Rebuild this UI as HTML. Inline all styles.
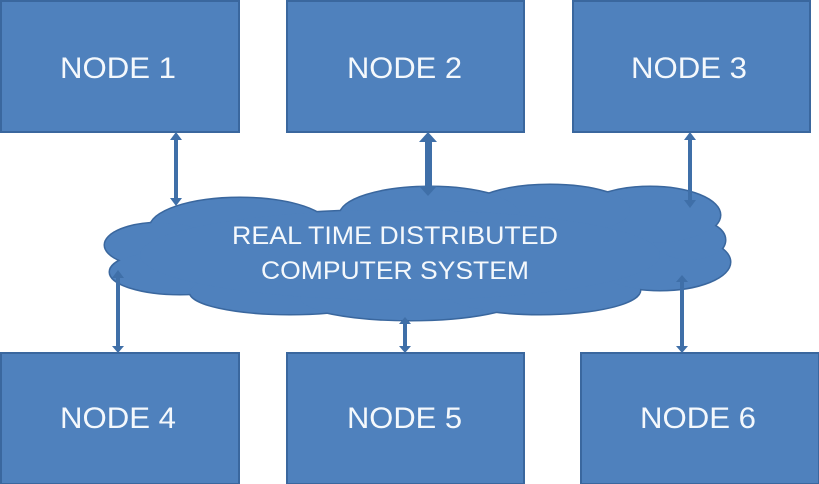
<!DOCTYPE html>
<html><head><meta charset="utf-8"><style>
html,body{margin:0;padding:0;background:#fff;}
svg{display:block}
text{font-family:"Liberation Sans",sans-serif;fill:#f4f8fc;}
</style></head><body>
<svg width="819" height="484" viewBox="0 0 819 484" xmlns="http://www.w3.org/2000/svg">
<g fill="#4f81bd" stroke="#3a679e" stroke-width="2">
<rect x="1" y="1" width="238" height="131"/>
<rect x="287" y="1" width="237" height="131"/>
<rect x="573" y="1" width="237" height="131"/>
<rect x="1" y="353" width="238" height="131"/>
<rect x="287" y="353" width="237" height="131"/>
<rect x="581" y="353" width="238" height="131"/>
</g>
<g stroke="#3a679e" stroke-width="3" fill="#3a679e">
<ellipse cx="240" cy="228" rx="90" ry="30"/>
<ellipse cx="160" cy="245" rx="55" ry="22"/>
<ellipse cx="180" cy="272" rx="70" ry="22"/>
<ellipse cx="290" cy="292" rx="100" ry="22"/>
<ellipse cx="410" cy="298" rx="110" ry="22"/>
<ellipse cx="540" cy="290" rx="100" ry="24"/>
<ellipse cx="660" cy="262" rx="70" ry="28"/>
<ellipse cx="690" cy="240" rx="35" ry="20"/>
<ellipse cx="650" cy="215" rx="70" ry="28"/>
<ellipse cx="550" cy="210" rx="80" ry="25"/>
<ellipse cx="430" cy="215" rx="90" ry="28"/>
<ellipse cx="400" cy="255" rx="260" ry="45"/>
</g>
<g fill="#4f81bd">
<ellipse cx="240" cy="228" rx="90" ry="30"/>
<ellipse cx="160" cy="245" rx="55" ry="22"/>
<ellipse cx="180" cy="272" rx="70" ry="22"/>
<ellipse cx="290" cy="292" rx="100" ry="22"/>
<ellipse cx="410" cy="298" rx="110" ry="22"/>
<ellipse cx="540" cy="290" rx="100" ry="24"/>
<ellipse cx="660" cy="262" rx="70" ry="28"/>
<ellipse cx="690" cy="240" rx="35" ry="20"/>
<ellipse cx="650" cy="215" rx="70" ry="28"/>
<ellipse cx="550" cy="210" rx="80" ry="25"/>
<ellipse cx="430" cy="215" rx="90" ry="28"/>
<ellipse cx="400" cy="255" rx="260" ry="45"/>
</g>
<g fill="#3f6fa8">
<!-- node1 -->
<rect x="174" y="138" width="4" height="62"/>
<path d="M170,140 L176,132 L182,140Z M170,198 L176,206 L182,198Z"/>
<!-- node2 -->
<rect x="425" y="140" width="7" height="48"/>
<path d="M419,142 L428,132 L437,142Z M419,186 L428,196 L437,186Z"/>
<!-- node3 -->
<rect x="688" y="138" width="4" height="64"/>
<path d="M684,140 L690,132 L696,140Z M684,200 L690,208 L696,200Z"/>
<!-- node4 -->
<rect x="116" y="276" width="4" height="72"/>
<path d="M112,278 L118,270 L124,278Z M112,346 L118,353 L124,346Z"/>
<!-- node5 -->
<rect x="403" y="322" width="4" height="26"/>
<path d="M399,324 L405,317 L411,324Z M399,346 L405,353 L411,346Z"/>
<!-- node6 -->
<rect x="680" y="280" width="4" height="68"/>
<path d="M676,282 L682,275 L688,282Z M676,346 L682,353 L688,346Z"/>
</g>
<g font-size="30">
<text x="60" y="78" textLength="116" lengthAdjust="spacingAndGlyphs">NODE 1</text>
<text x="347" y="78" textLength="115" lengthAdjust="spacingAndGlyphs">NODE 2</text>
<text x="631" y="78" textLength="116" lengthAdjust="spacingAndGlyphs">NODE 3</text>
<text x="60" y="428" textLength="116" lengthAdjust="spacingAndGlyphs">NODE 4</text>
<text x="347" y="428" textLength="115" lengthAdjust="spacingAndGlyphs">NODE 5</text>
<text x="640" y="428" textLength="116" lengthAdjust="spacingAndGlyphs">NODE 6</text>
</g>
<g font-size="25">
<text x="232" y="244" textLength="326" lengthAdjust="spacingAndGlyphs">REAL TIME DISTRIBUTED</text>
<text x="261" y="279" textLength="268" lengthAdjust="spacingAndGlyphs">COMPUTER SYSTEM</text>
</g>
</svg>
</body></html>
